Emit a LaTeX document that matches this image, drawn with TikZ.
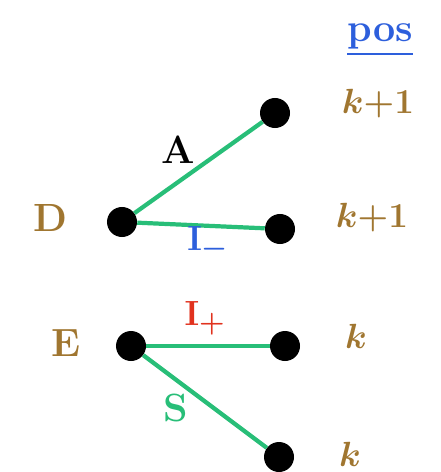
\documentclass[tikz,border=0pt]{standalone}
\usepackage{amsmath}
\usetikzlibrary{positioning}
\definecolor{edgegreen}{RGB}{40,190,120}
\definecolor{inkbrown}{RGB}{160,118,48}
\definecolor{inkblue}{RGB}{45,95,220}
\definecolor{inkred}{RGB}{225,50,30}

\begin{document}
\begin{tikzpicture}[x=0.025cm,y=-0.025cm,
  vert/.style={circle,fill,inner sep=0pt,minimum size=0.75cm},
  edge/.style={edgegreen,line width=3pt},
  lab/.style={font=\fontsize{28}{30}\selectfont\bfseries\boldmath}]
  \useasboundingbox (0,0) rectangle (440,472);
  % heading of the position column
  \node[lab,inkblue] (pos) at (380,40) {\underline{pos}};
  % upper pane: D, reached by A and I_-
  \node[vert] (d) at (122,222) {};
  \node[vert] (da) at (275,113) {};
  \node[vert] (di) at (280,229) {};
  \draw[edge] (d) -- (da);
  \draw[edge] (d) -- (di);
  \node[lab,inkbrown] (dlab) at (50,218) {D};
  \node[lab] (alab) at (178,150) {A};
  \node[lab,inkblue] (ilab) at (208,243) {$\mathrm{I}_-$};
  \node[lab,inkbrown] (dapos) at (378,104) {$k{+}1$};
  \node[lab,inkbrown] (dipos) at (372,218) {$k{+}1$};
  % lower pane: E, reached by I_+ and S
  \node[vert] (e) at (131,346) {};
  \node[vert] (ei) at (285,346) {};
  \node[vert] (es) at (279,457) {};
  \draw[edge] (e) -- (ei);
  \draw[edge] (e) -- (es);
  \node[lab,inkbrown] (elab) at (66,343) {E};
  \node[lab,inkred] (iplab) at (205,318) {$\mathrm{I}_+$};
  \node[lab,edgegreen] (slab) at (176,408) {S};
  \node[lab,inkbrown] (eipos) at (356,336) {$k$};
  \node[lab,inkbrown] (espos) at (350,454) {$k$};
\end{tikzpicture}
\end{document}
